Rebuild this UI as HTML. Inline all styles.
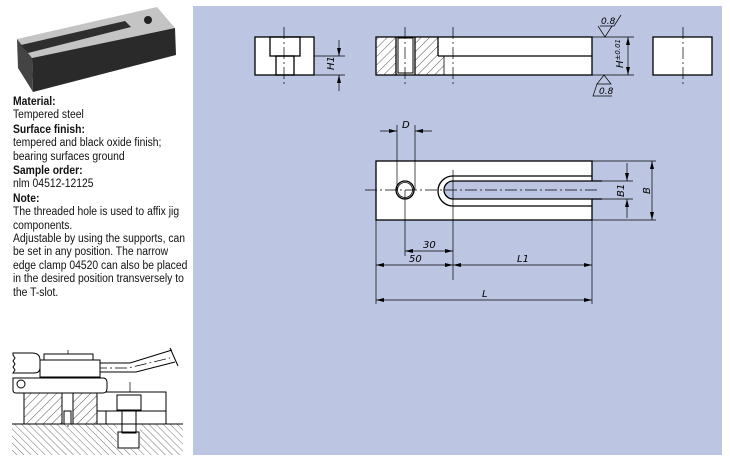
<!DOCTYPE html>
<html><head><meta charset="utf-8"><style>
body{margin:0;width:730px;height:461px;background:#fff;overflow:hidden;position:relative;font-family:"Liberation Sans",sans-serif;}
#txt{position:absolute;left:13px;top:96px;font-size:11.5px;line-height:13.4px;color:#111;width:240px;white-space:nowrap;transform:scaleX(0.9);transform-origin:0 0;}
#txt b{display:block;margin-top:1px;}
#panel{position:absolute;left:193px;top:6px;width:529px;height:449px;background:#bcc5e2;}
svg{position:absolute;left:0;top:0;}
</style></head><body>
<div id="panel"></div>
<div id="txt">
<b style="margin-top:0">Material:</b>Tempered steel
<b>Surface finish:</b>tempered and black oxide finish;<br>bearing surfaces ground
<b>Sample order:</b>nlm 04512-12125
<b>Note:</b>The threaded hole is used to affix jig<br>components.<br>Adjustable by using the supports, can<br>be set in any position. The narrow<br>edge clamp 04520 can also be placed<br>in the desired position transversely to<br>the T-slot.
</div>
<svg width="730" height="461" viewBox="0 0 730 461">
<defs>
<pattern id="h" width="6" height="6" patternUnits="userSpaceOnUse" patternTransform="rotate(45)"><line x1="0" y1="0" x2="0" y2="6" stroke="#333" stroke-width="0.8"/></pattern>
<pattern id="h2" width="5" height="5" patternUnits="userSpaceOnUse" patternTransform="rotate(-45)"><line x1="0" y1="0" x2="0" y2="5" stroke="#333" stroke-width="0.7"/></pattern>
<marker id="a" markerWidth="8" markerHeight="6" refX="8" refY="3" orient="auto-start-reverse" markerUnits="userSpaceOnUse"><path d="M0,1 L8,3 L0,5z" fill="#000"/></marker>
</defs>
<polygon points="17,39 157,7 175,28 32,58" fill="#c4c4c4"/>
<polygon points="32,58 175,28 176,55 33,92" fill="#2a2a2a"/>
<polygon points="17,39 32,58 33,92 18,68" fill="#444"/>
<polygon points="21,45 125,21 131,27 28,53" fill="#2e2e2e"/>
<circle cx="148" cy="20" r="4" fill="#222"/>
<g stroke="#000" fill="none" stroke-width="1.3">
<rect x="255" y="37" width="59" height="38" fill="#fff"/>
<rect x="270" y="37" width="30" height="19"/>
<rect x="276" y="56" width="18" height="19"/>
<rect x="376" y="37" width="216" height="38" fill="#fff"/>
<rect x="376" y="37" width="20" height="38" fill="url(#h)" stroke="none"/>
<path d="M415,37 H438 V56 H444 V75 H415z" fill="url(#h)" stroke="none"/>
<line x1="396" y1="37" x2="396" y2="75"/><line x1="415" y1="37" x2="415" y2="75"/>
<rect x="398" y="38" width="15" height="35" stroke-width="1"/>
<line x1="438" y1="37" x2="438" y2="56"/><line x1="438" y1="56" x2="592" y2="56"/>
<line x1="444" y1="56" x2="444" y2="75" stroke-width="0.8"/>
<rect x="653" y="37" width="59" height="38" fill="#fff"/>
<rect x="376" y="161" width="216" height="59" fill="#fff"/>
<path d="M592,176 H453 A15,15 0 0 0 453,206 H592"/>
<path d="M602,181 H453 A9,9 0 0 0 453,199 H602" fill="#bcc5e2"/>
<circle cx="405" cy="190" r="9"/>
<circle cx="405" cy="190" r="7.5" stroke-width="0.8"/>
</g>
<g stroke="#000" fill="none" stroke-width="0.7">
<line x1="314" y1="56" x2="345" y2="56"/><line x1="314" y1="75" x2="345" y2="75"/>
<line x1="339" y1="40" x2="339" y2="56" marker-end="url(#a)"/><line x1="339" y1="91" x2="339" y2="75" marker-end="url(#a)"/>
<line x1="592" y1="37" x2="634" y2="37"/><line x1="592" y1="75" x2="634" y2="75"/>
<line x1="628" y1="37" x2="628" y2="75" marker-start="url(#a)" marker-end="url(#a)"/>
<path d="M598,26 L605,37 L612,26 M600,26 H614 L621,15"/>
<path d="M604,75 L597,84 H611z M597,84 L593,96 H612"/>
<line x1="592" y1="161" x2="656" y2="161"/><line x1="592" y1="220" x2="656" y2="220"/>
<line x1="602" y1="181" x2="633" y2="181"/><line x1="602" y1="199" x2="633" y2="199"/>
<line x1="652" y1="161" x2="652" y2="220" marker-start="url(#a)" marker-end="url(#a)"/>
<line x1="627" y1="163" x2="627" y2="181" marker-end="url(#a)"/><line x1="627" y1="218" x2="627" y2="199" marker-end="url(#a)"/>
<line x1="397" y1="125" x2="397" y2="190"/><line x1="415" y1="125" x2="415" y2="190"/>
<line x1="380" y1="131" x2="397" y2="131" marker-end="url(#a)"/><line x1="432" y1="131" x2="415" y2="131" marker-end="url(#a)"/>
<line x1="376" y1="220" x2="376" y2="304"/><line x1="592" y1="220" x2="592" y2="304"/>
<line x1="405" y1="190" x2="405" y2="256"/><line x1="453" y1="170" x2="453" y2="280"/>
<line x1="405" y1="251" x2="453" y2="251" marker-start="url(#a)" marker-end="url(#a)"/>
<line x1="376" y1="265" x2="453" y2="265" marker-start="url(#a)" marker-end="url(#a)"/>
<line x1="453" y1="265" x2="592" y2="265" marker-start="url(#a)" marker-end="url(#a)"/>
<line x1="376" y1="300" x2="592" y2="300" marker-start="url(#a)" marker-end="url(#a)"/>
<g stroke-dasharray="12,3,2,3">
<line x1="284" y1="27" x2="284" y2="86"/><line x1="405" y1="27" x2="405" y2="86"/><line x1="453" y1="27" x2="453" y2="86"/><line x1="683" y1="27" x2="683" y2="86"/>
<line x1="365" y1="190" x2="600" y2="190"/>
<line x1="68" y1="350" x2="68" y2="428"/><line x1="130" y1="382" x2="130" y2="446"/>
<path d="M95,368 H128 L170,358"/>
</g>
</g>
<g font-family="DejaVu Sans,sans-serif" font-style="italic" font-size="10" fill="#000">
<text transform="translate(334,70) rotate(-90)">H1</text>
<text transform="translate(623,68) rotate(-90)">H<tspan font-size="7" dy="-3">±0.01</tspan></text>
<text x="601" y="24" font-size="9">0.8</text>
<text x="599" y="94" font-size="9">0.8</text>
<text x="402" y="128">D</text>
<text transform="translate(624,197) rotate(-90)">B1</text>
<text transform="translate(650,194) rotate(-90)">B</text>
<text x="423" y="248">30</text>
<text x="409" y="262">50</text>
<text x="517" y="262">L1</text>
<text x="482" y="297">L</text>
</g>
<g stroke="#000" fill="none" stroke-width="1">
<rect x="12" y="424" width="171" height="31" fill="url(#h2)" stroke="none"/>
<line x1="12" y1="424" x2="183" y2="424"/>
<rect x="117" y="424" width="23" height="25" fill="#fff" stroke="none"/>
<rect x="24" y="392" width="73" height="32" fill="url(#h)"/>
<rect x="62" y="392" width="11" height="32" fill="#fff"/>
<rect x="64" y="411" width="7" height="13"/>
<path d="M97,392 H166 V424 H106 V411 H97z" fill="#fff"/>
<line x1="106" y1="411" x2="166" y2="411"/>
<rect x="117" y="395" width="24" height="15"/>
<rect x="122" y="411" width="14" height="22"/>
<rect x="118" y="432" width="21" height="16"/>
<path d="M13,378 H103 Q107,378 107,383 V388 Q107,393 103,393 H16 Q13,393 13,390z" fill="#fff"/>
<circle cx="21" cy="384" r="4"/>
<rect x="44" y="354" width="49" height="6" fill="#fff"/>
<rect x="40" y="360" width="60" height="17" fill="#fff"/>
<path d="M13,353 H32 Q40,353 40,360 V368 Q40,373 34,373 H13 l2,-3 -2,-3 2,-3 -2,-3 2,-3 -2,-3z" fill="#fff"/>
<path d="M100,363 H130 L172,350 M100,372 H136 L175,362 M170,348 L178,366"/>
</g>
</svg>
</body></html>
